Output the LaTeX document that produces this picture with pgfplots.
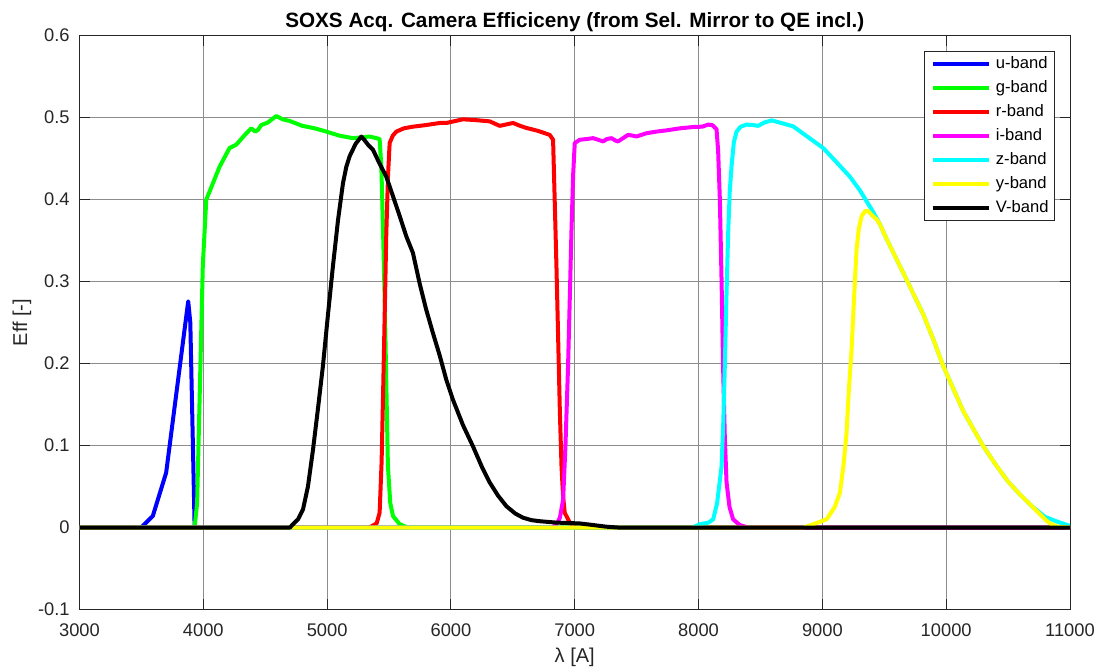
\documentclass[border=0pt]{standalone}
\usepackage{fontspec}
\setmainfont{Liberation Sans}
\usepackage{pgfplots}
\pgfplotsset{compat=1.18}
\definecolor{cBlue}{rgb}{0,0,1}
\definecolor{cGreen}{rgb}{0,1,0}
\definecolor{cRed}{rgb}{1,0,0}
\definecolor{cMag}{rgb}{1,0,1}
\definecolor{cCyan}{rgb}{0,1,1}
\definecolor{cYel}{rgb}{1,1,0}
\definecolor{cBlack}{rgb}{0,0,0}
\begin{document}
\begin{tikzpicture}
\begin{axis}[
  scale only axis,
  width=495.25pt, height=286.9pt,
  xmin=3000, xmax=11000, ymin=-0.1, ymax=0.6,
  xtick={3000,4000,5000,6000,7000,8000,9000,10000,11000},
  ytick={-0.1,0,0.1,0.2,0.3,0.4,0.5,0.6},
  /pgf/number format/assume math mode=true,
  /pgf/number format/1000 sep={},
  scaled x ticks=false, scaled y ticks=false,
  tick align=inside, major tick length=5pt,
  tick style={black!85, line width=0.5pt},
  axis line style={black!85, line width=0.5pt},
  grid=major, grid style={black!45, line width=0.5pt},
  ticklabel style={font=\fontsize{9.15}{11}\selectfont, text=black!85},
  xticklabel style={anchor=base, inner sep=0pt, yshift=-13.6pt},
  yticklabel style={anchor=east, inner sep=0pt, xshift=-4.75pt},
  title={SOXS Acq. Camera Efficiceny (from Sel. Mirror to QE incl.)},
  title style={at={(axis description cs:0.5,1)}, anchor=base, yshift=-1.8pt, font=\bfseries\fontsize{10.35}{12}\selectfont},
  xlabel={λ [A]},
  xlabel style={at={(axis description cs:0.5,-0.0932)}, anchor=base, font=\fontsize{10}{12}\selectfont, text=black!85},
  ylabel={Eff [-]},
  ylabel style={at={(axis description cs:-0.053,0.5)}, rotate=0, anchor=base, font=\fontsize{10}{12}\selectfont, text=black!85},
  legend style={at={(axis description cs:0.9849,0.9733)}, anchor=north east,
    font=\fontsize{8.3}{10}\selectfont, draw=black!85, line width=0.5pt, fill=white,
    inner xsep=3pt, inner ysep=2pt, row sep=3.7pt, column sep=2.35pt,
    nodes={inner sep=0pt, text height=6.5pt, text depth=1.8pt}},
  legend cell align=left,
  legend image code/.code={\draw[#1, line width=2pt] (0pt,0pt) -- (28.3pt,0pt);},
  every axis plot/.append style={line width=2pt, line join=round},
]
\addplot[cBlue] coordinates {(3000,0) (3498,0) (3592,0.014) (3700,0.067) (3878,0.276) (3895,0.25) (3930,0.0) (11000,0)};
\addlegendentry{u-band}
\addplot[cGreen] coordinates {(3000,0) (3930,0) (3950,0.03) (3970,0.156) (3996,0.32) (4024,0.40) (4051,0.41) (4131,0.44) (4212,0.463) (4266,0.467) (4330,0.478) (4387,0.487) (4420,0.483) (4441,0.485) (4468,0.491) (4520,0.494) (4589,0.502) (4640,0.498) (4697,0.496) (4800,0.49) (4900,0.487) (4993,0.483) (5100,0.478) (5209,0.475) (5280,0.476) (5343,0.477) (5424,0.474) (5438,0.44) (5452,0.36) (5465,0.278) (5480,0.16) (5491,0.075) (5510,0.03) (5532,0.014) (5586,0.004) (5650,0) (11000,0)};
\addlegendentry{g-band}
\addplot[cRed] coordinates {(3000,0) (5340,0) (5400,0.005) (5424,0.018) (5440,0.08) (5451,0.156) (5465,0.26) (5478,0.359) (5492,0.43) (5505,0.469) (5530,0.478) (5559,0.483) (5620,0.487) (5693,0.489) (5800,0.491) (5909,0.4935) (5963,0.4935) (6097,0.498) (6200,0.497) (6313,0.4955) (6394,0.490) (6501,0.4935) (6560,0.490) (6610,0.4874) (6700,0.484) (6798,0.479) (6825,0.473) (6838,0.40) (6852,0.32) (6865,0.237) (6880,0.14) (6893,0.075) (6905,0.04) (6919,0.018) (6960,0.006) (7000,0) (11000,0)};
\addlegendentry{r-band}
\addplot[cMag] coordinates {(3000,0) (6820,0) (6852,0.004) (6880,0.012) (6906,0.034) (6925,0.1) (6946,0.197) (6960,0.28) (6973,0.359) (6987,0.43) (7000,0.469) (7040,0.473) (7100,0.474) (7148,0.475) (7190,0.473) (7229,0.471) (7260,0.474) (7297,0.475) (7330,0.472) (7350,0.471) (7400,0.476) (7431,0.479) (7470,0.478) (7498,0.477) (7579,0.481) (7660,0.483) (7741,0.4845) (7850,0.487) (7956,0.4886) (8030,0.489) (8077,0.4915) (8110,0.491) (8145,0.486) (8158,0.46) (8172,0.40) (8186,0.30) (8198,0.197) (8212,0.11) (8226,0.055) (8250,0.025) (8279,0.01) (8333,0.003) (8400,0) (11000,0)};
\addlegendentry{i-band}
\addplot[cCyan] coordinates {(3000,0) (7950,0) (8010,0.004) (8080,0.006) (8118,0.01) (8150,0.03) (8186,0.075) (8200,0.13) (8212,0.197) (8225,0.28) (8239,0.359) (8252,0.41) (8266,0.44) (8285,0.47) (8307,0.483) (8340,0.489) (8388,0.4915) (8440,0.491) (8481,0.490) (8530,0.494) (8589,0.4967) (8680,0.493) (8764,0.4894) (8850,0.480) (9006,0.463) (9100,0.448) (9222,0.428) (9300,0.412) (9357,0.398) (9410,0.385) (9465,0.370) (9519,0.352) (9600,0.327) (9681,0.302) (9815,0.260) (9900,0.228) (9976,0.197) (10070,0.165) (10138,0.142) (10220,0.12) (10300,0.099) (10408,0.075) (10500,0.056) (10598,0.040) (10700,0.025) (10798,0.013) (10900,0.007) (11000,0.002)};
\addlegendentry{z-band}
\addplot[cYel] coordinates {(3000,0) (8850,0) (8926,0.004) (9034,0.01) (9100,0.025) (9141,0.042) (9170,0.075) (9195,0.115) (9215,0.17) (9236,0.217) (9256,0.28) (9276,0.339) (9295,0.365) (9317,0.38) (9345,0.386) (9371,0.386) (9400,0.381) (9438,0.376) (9465,0.370) (9519,0.352) (9600,0.327) (9681,0.302) (9815,0.260) (9900,0.228) (9976,0.197) (10070,0.165) (10138,0.142) (10220,0.12) (10300,0.099) (10408,0.075) (10500,0.056) (10598,0.040) (10700,0.025) (10798,0.010) (10838,0.005) (10900,0.001) (11000,0)};
\addlegendentry{y-band}
\addplot[cBlack] coordinates {(3000,0) (4700,0) (4724,0.004) (4765,0.01) (4805,0.022) (4845,0.05) (4886,0.095) (4926,0.145) (4966,0.197) (5007,0.26) (5047,0.319) (5088,0.375) (5128,0.42) (5155,0.44) (5182,0.453) (5230,0.468) (5276,0.477) (5300,0.473) (5330,0.467) (5370,0.461) (5420,0.445) (5478,0.428) (5530,0.405) (5586,0.38) (5640,0.355) (5693,0.335) (5747,0.298) (5800,0.266) (5855,0.237) (5909,0.210) (5963,0.18) (6016,0.156) (6097,0.125) (6178,0.099) (6250,0.074) (6313,0.055) (6380,0.039) (6448,0.026) (6520,0.017) (6582,0.012) (6650,0.009) (6717,0.0077) (6850,0.006) (7040,0.005) (7150,0.003) (7256,0.001) (7350,0) (11000,0)};
\addlegendentry{V-band}
\end{axis}
\pgfresetboundingbox
\path ([shift={(-39.75pt,-30.75pt)}]current axis.south west) rectangle ([shift={(14.5pt,17.85pt)}]current axis.north east);
\end{tikzpicture}
\end{document}
